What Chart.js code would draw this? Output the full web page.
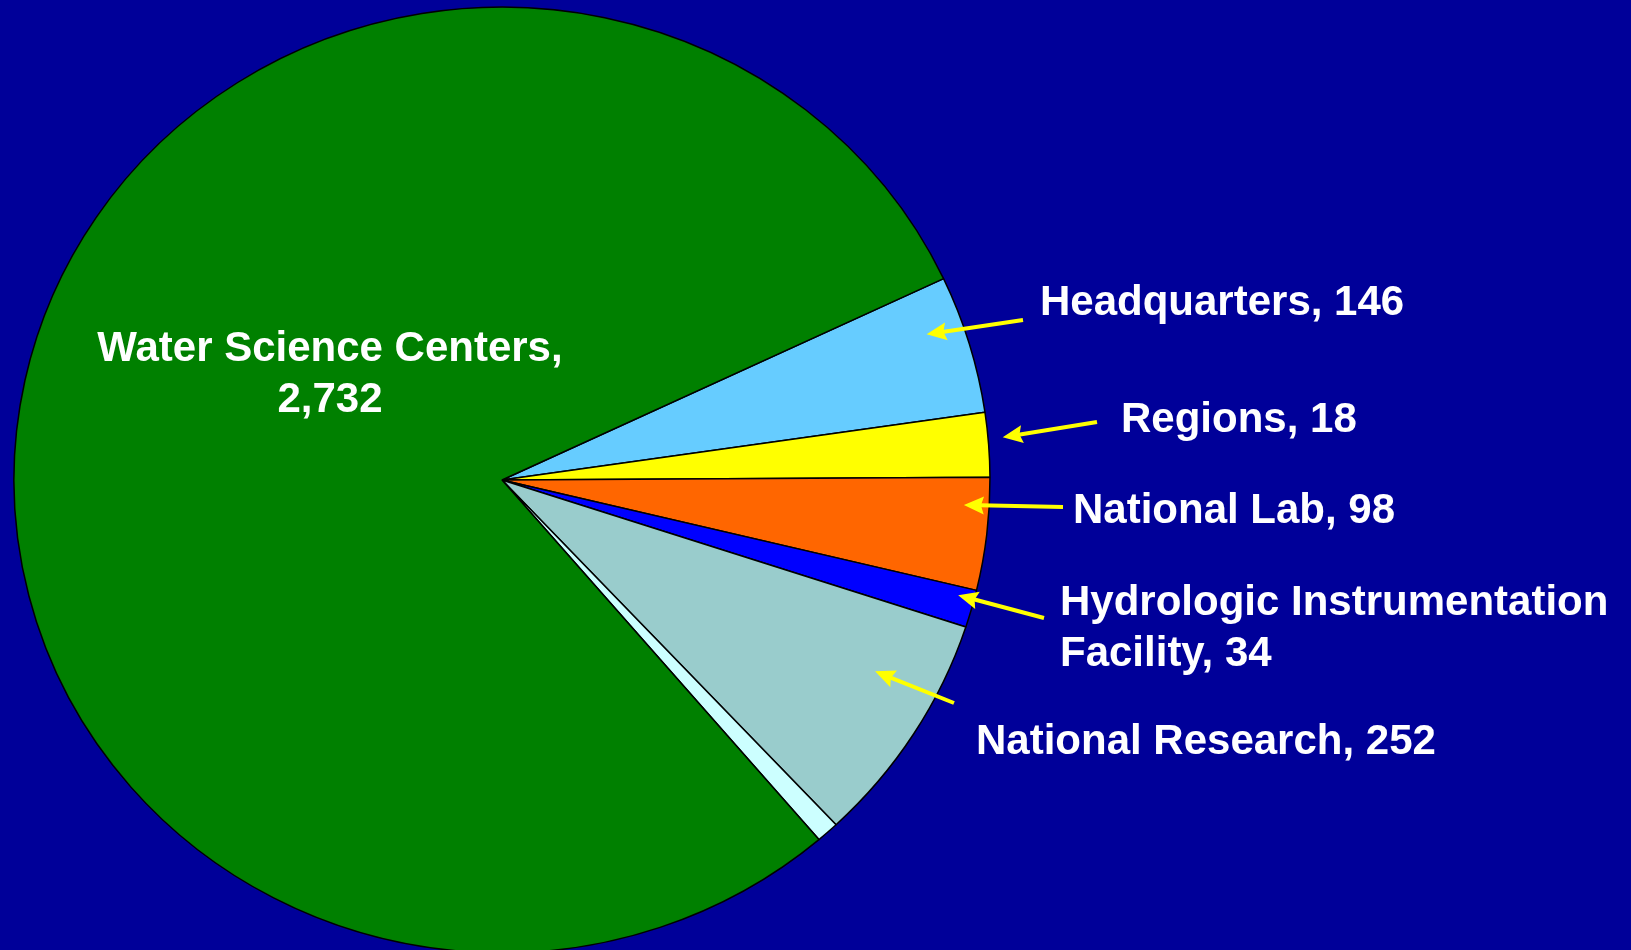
<!DOCTYPE html>
<html><head><meta charset="utf-8">
<script src="https://cdn.jsdelivr.net/npm/chart.js@4/dist/chart.umd.min.js"></script>
<style>html,body{margin:0;padding:0;background:#000099;overflow:hidden}canvas{display:block}</style>
</head><body>
<canvas id="c" width="1631" height="950"></canvas>
<script>
// ---- data ----
const categories = ['Headquarters', 'Regions', 'National Lab', 'Hydrologic Instrumentation Facility', 'National Research', '', 'Water Science Centers'];
const labelValues = ['146', '18', '98', '34', '252', null, '2,732'];
// slice sizes (% of the circle)
const sliceShares = [4.71, 2.20, 3.84, 1.28, 7.97, 0.75, 79.25];
const sliceColors = ['#66CCFF', '#FFFF00', '#FF6600', '#0000FF', '#99CCCC', '#CCFFFF', '#008000'];

// ---- layout of the annotations ----
const SY = 0.969; // pie is slightly squashed vertically
const labelLayout = [
  {x: 1040, y: 315, align: 'left', tail: [1023, 320], tipT: 0.336, tipR: 0.923},
  {x: 1121, y: 432, align: 'left', tail: [1097, 422], tipT: 0.406, tipR: 1.03},
  {x: 1073, y: 523, align: 'left', tail: [1063, 507], tipT: 0.255, tipR: 0.948},
  {x: 1060, y: 615, align: 'left', wrapAfter: 'Instrumentation', tail: [1044, 618], tipT: 0.24, tipR: 0.966},
  {x: 976, y: 754, align: 'left', tail: [954, 703], tipT: 0.341, tipR: 0.865},
  null,
  {x: 330, y: 361, align: 'center', wrapAfter: 'Centers,'}
];
const FONT = 'bold 42px "Liberation Sans", Arial, sans-serif';
const LINE_H = 51;

function wrap(text, after) {
  if (!after) return [text];
  const i = text.indexOf(after) + after.length;
  return [text.slice(0, i).trim(), text.slice(i).trim()];
}

function drawArrow(ctx, x1, y1, x2, y2) {
  const ang = Math.atan2(y2 - y1, x2 - x1);
  const headL = 20, headW = 9;
  const bx = x2 - Math.cos(ang) * headL, by = y2 - Math.sin(ang) * headL;
  ctx.strokeStyle = '#FFFF00';
  ctx.fillStyle = '#FFFF00';
  ctx.lineWidth = 4;
  ctx.lineCap = 'butt';
  ctx.beginPath(); ctx.moveTo(x1, y1); ctx.lineTo(bx + Math.cos(ang) * 4, by + Math.sin(ang) * 4); ctx.stroke();
  ctx.beginPath();
  ctx.moveTo(x2, y2);
  ctx.lineTo(bx - Math.sin(ang) * headW, by + Math.cos(ang) * headW);
  ctx.lineTo(bx + Math.cos(ang) * 3, by + Math.sin(ang) * 3);
  ctx.lineTo(bx + Math.sin(ang) * headW, by - Math.cos(ang) * headW);
  ctx.closePath(); ctx.fill();
}

const squashPlugin = {
  id: 'squash',
  beforeDatasetsDraw(chart) {
    const a = chart.getDatasetMeta(0).data[0];
    const ctx = chart.ctx;
    ctx.save();
    ctx.translate(a.x, a.y); ctx.scale(1, SY); ctx.translate(-a.x, -a.y);
  },
  afterDatasetsDraw(chart) { chart.ctx.restore(); }
};

const labelPlugin = {
  id: 'calloutLabels',
  afterDraw(chart) {
    const ctx = chart.ctx;
    const arcs = chart.getDatasetMeta(0).data;
    ctx.save();
    categories.forEach((cat, i) => {
      const L = labelLayout[i];
      if (!L || labelValues[i] === null) return;
      if (L.tail) {
        const p = arcs[i].getProps(['x', 'y', 'startAngle', 'endAngle', 'outerRadius'], true);
        const ang = p.startAngle + L.tipT * (p.endAngle - p.startAngle);
        const tx = p.x + Math.cos(ang) * p.outerRadius * L.tipR;
        const ty = p.y + Math.sin(ang) * p.outerRadius * L.tipR * SY;
        drawArrow(ctx, L.tail[0], L.tail[1], tx, ty);
      }
      ctx.font = FONT;
      ctx.fillStyle = '#FFFFFF';
      ctx.textAlign = L.align;
      ctx.textBaseline = 'alphabetic';
      wrap(cat + ', ' + labelValues[i], L.wrapAfter).forEach((line, k) => {
        ctx.fillText(line, L.x, L.y + k * LINE_H);
      });
    });
    ctx.restore();
  }
};

new Chart(document.getElementById('c'), {
  type: 'pie',
  data: {
    labels: categories,
    datasets: [{
      data: sliceShares,
      backgroundColor: sliceColors,
      borderColor: '#000000',
      borderWidth: 1.5,
      clip: false
    }]
  },
  options: {
    responsive: false,
    animation: false,
    rotation: 64.8,
    radius: 488,
    layout: {padding: {left: 0, right: 627, top: 10, bottom: 0}},
    plugins: {legend: {display: false}, tooltip: {enabled: false}, title: {display: false}}
  },
  plugins: [squashPlugin, labelPlugin]
});
</script>
</body></html>
